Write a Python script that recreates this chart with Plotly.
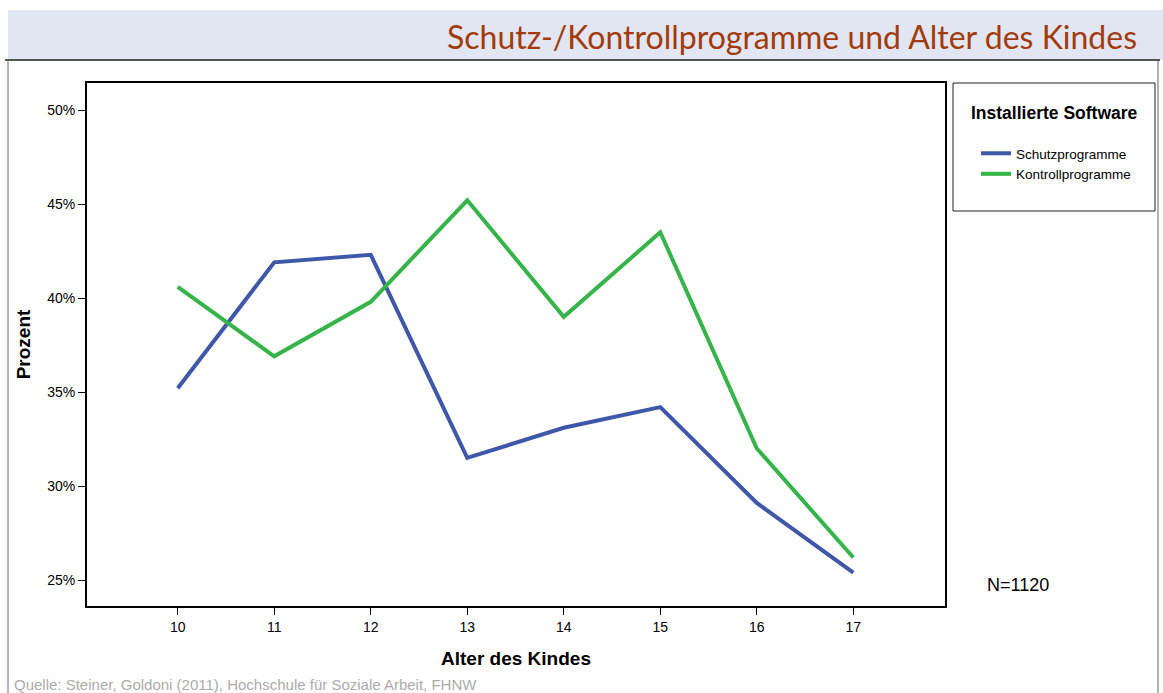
import plotly.graph_objects as go

ages = [10, 11, 12, 13, 14, 15, 16, 17]
schutz = [35.2, 41.9, 42.3, 31.5, 33.1, 34.2, 29.1, 25.4]
kontroll = [40.6, 36.9, 39.8, 45.2, 39.0, 43.5, 32.0, 26.2]
y_ticks = [25, 30, 35, 40, 45, 50]
y_labels = ["25%", "30%", "35%", "40%", "45%", "50%"]

W, H = 1163, 693
L, R, T, B = 87, 945, 83, 606


def px(x):
    return (x - L) / (R - L)


def py(y):
    return (B - y) / (B - T)


fig = go.Figure()
fig.add_trace(go.Scatter(x=ages, y=schutz, name="Schutzprogramme", mode="lines",
                         line=dict(color="#3F57A8", width=4)))
fig.add_trace(go.Scatter(x=ages, y=kontroll, name="Kontrollprogramme", mode="lines",
                         line=dict(color="#35B44A", width=4)))

shapes = [
    # header band
    dict(type="rect", xref="paper", yref="paper", x0=px(8), x1=px(1163), y0=py(60), y1=py(10),
         fillcolor="#E1E6F2", line=dict(width=0), layer="below"),
    # outer frame
    dict(type="line", xref="paper", yref="paper", x0=px(5), x1=px(1160), y0=py(60), y1=py(60),
         line=dict(color="#555555", width=2)),
    dict(type="line", xref="paper", yref="paper", x0=px(8), x1=px(8), y0=py(60), y1=py(700),
         line=dict(color="#666666", width=1)),
    dict(type="line", xref="paper", yref="paper", x0=px(1158), x1=px(1158), y0=py(60), y1=py(700),
         line=dict(color="#666666", width=1)),
    # legend box
    dict(type="rect", xref="paper", yref="paper", x0=px(953), x1=px(1155), y0=py(211), y1=py(83),
         line=dict(color="#222222", width=1)),
]

annotations = [
    dict(text="Schutz-/Kontrollprogramme und Alter des Kindes", xref="paper", yref="paper",
         x=px(1139), y=py(37), xanchor="right", yanchor="middle", showarrow=False,
         font=dict(family="Lato", size=32, color="#A23B0C")),
    dict(text="<b>Installierte Software</b>", xref="paper", yref="paper",
         x=px(1054), y=py(113), xanchor="center", yanchor="middle", showarrow=False,
         font=dict(family="Liberation Sans", size=17.5, color="black")),
    dict(text="N=1120", xref="paper", yref="paper",
         x=px(985), y=py(585), xanchor="left", yanchor="middle", showarrow=False,
         font=dict(family="Liberation Sans", size=18, color="black")),
    dict(text="Quelle: Steiner, Goldoni (2011), Hochschule für Soziale Arbeit, FHNW",
         xref="paper", yref="paper", x=px(12), y=py(684), xanchor="left", yanchor="middle",
         showarrow=False, font=dict(family="Liberation Sans", size=15, color="#ABABAB")),
]

fig.update_layout(
    width=W,
    height=H,
    margin=dict(l=L, r=W - R, t=T, b=H - B),
    plot_bgcolor="white",
    paper_bgcolor="white",
    font=dict(family="Liberation Sans", size=14, color="black"),
    showlegend=True,
    legend=dict(x=px(976), y=py(138), xanchor="left", yanchor="top",
                bgcolor="rgba(0,0,0,0)", font=dict(size=13.5), tracegroupgap=0,
                itemwidth=30),
    shapes=shapes,
    annotations=annotations,
    xaxis=dict(
        range=[9.06, 17.95],
        tickvals=ages,
        ticks="outside",
        ticklen=7,
        tickcolor="black",
        showgrid=False,
        zeroline=False,
        showline=True,
        linecolor="black",
        linewidth=2,
        mirror=True,
        title=dict(text="<b>Alter des Kindes</b>", font=dict(size=19), standoff=18),
    ),
    yaxis=dict(
        range=[23.62, 51.44],
        tickvals=y_ticks,
        ticktext=y_labels,
        ticks="outside",
        ticklen=7,
        tickcolor="black",
        showgrid=False,
        zeroline=False,
        showline=True,
        linecolor="black",
        linewidth=2,
        mirror=True,
        title=dict(text="<b>Prozent</b>", font=dict(size=19), standoff=12),
    ),
)

fig.write_html("out.html", config={"displayModeBar": False},
               post_script="document.body.style.margin='0';")
